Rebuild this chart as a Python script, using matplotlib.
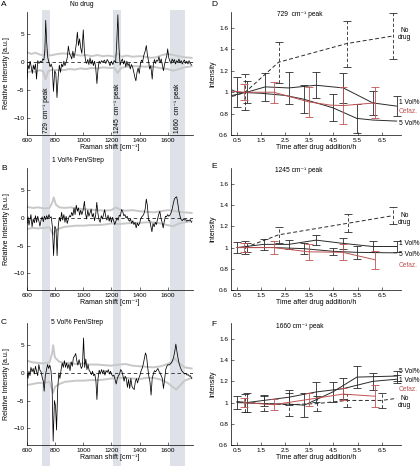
import numpy as np
import matplotlib
matplotlib.use("Agg")
import matplotlib.pyplot as plt
from matplotlib.patches import Rectangle
from matplotlib.transforms import blended_transform_factory

plt.rcParams['font.family'] = ['Liberation Sans', 'DejaVu Sans']
plt.rcParams['axes.linewidth'] = 0.5

# ---- spectra (wavenumber, relative intensity) ----
spec_a = [(600,-3),(607,-0.5),(615,-1.2),(622,0.2),(630,-0.8),(638,-2),(645,-0.5),(652,-1.3),(660,-0.3),(668,-3),
          (676,0.3),(685,-0.2),(695,0.2),(705,0),(712,0.6),(720,0.4),(727,2.2),(733,7.5),(740,3.5),(748,0.8),
          (756,0),(764,-0.8),(772,-0.3),(780,-1),(788,-5.2),(797,-1.5),(805,-2),(813,-6.3),(822,-2.5),(830,-0.5),
          (838,-1.8),(846,-0.3),(854,-0.8),(862,0.2),(870,-0.6),(878,0),(886,0.8),(894,2.9),(902,1.5),(910,1.2),
          (918,0.6),(926,2),(934,0.8),(942,1.8),(950,3.2),(958,5.4),(966,3),(974,4.2),(982,2.5),(990,1.6),
          (1000,5.8),(1008,2),(1016,0.3),(1024,-0.2),(1032,0.5),(1040,-0.4),(1048,0.8),(1056,-0.3),(1064,0.4),(1072,-0.6),
          (1080,0.2),(1088,-0.8),(1097,-3.8),(1105,-1.2),(1113,0.2),(1121,-0.2),(1130,0.3),(1140,0),(1150,0.4),(1160,-0.2),
          (1170,0.5),(1180,0.1),(1190,-0.6),(1200,0.2),(1210,-0.4),(1220,0.3),(1230,0),(1238,3.5),(1246,8.5),(1254,2.5),
          (1262,-0.5),(1270,0.2),(1278,0.6),(1286,-0.3),(1294,0.3),(1302,-0.8),(1310,0.2),(1318,-0.6),(1326,-0.2),(1334,-1.2),
          (1342,-0.4),(1350,-0.8),(1358,-1.6),(1366,-2.6),(1374,-3.3),(1382,-1.8),(1390,-1),(1398,-2),(1406,-0.3),(1414,0.4),
          (1422,0.1),(1430,1.2),(1440,2),(1448,3),(1456,1.3),(1464,0.2),(1472,-1.2),(1480,-0.6),(1490,-3),(1498,-0.4),
          (1506,0.5),(1514,-0.2),(1522,0.4),(1530,0.2),(1538,1),(1546,-0.1),(1554,0.6),(1562,-0.4),(1570,-1.5),(1578,-0.3),
          (1586,0.5),(1594,1.2),(1600,2.4),(1608,0.8),(1616,0.2),(1624,-0.2),(1632,0.6),(1640,0.1),(1648,0.5),(1656,-0.3),
          (1664,0.3),(1672,0),(1680,0.6),(1688,-0.1),(1696,0.3),(1704,-0.3),(1712,0.2),(1720,0.4),(1728,-0.2),(1736,0.2),
          (1744,-0.3),(1752,0.3),(1760,-0.2),(1770,-0.5)]

spec_b = [(600,-1),(607,0.2),(614,-1.3),(621,-0.3),(628,0.6),(636,-1.6),(644,-0.2),(652,-0.9),(660,0.4),(668,-0.8),
          (676,0.3),(684,-0.5),(692,-1.5),(700,-0.4),(708,0.2),(716,-0.7),(724,0.3),(732,-0.3),(740,0.4),(748,-0.2),
          (756,0.6),(764,0),(772,0.2),(780,-1.5),(789,-6.8),(798,-1.5),(806,-2),(814,-6.8),(822,-1.5),(830,0.1),
          (838,-0.6),(846,1),(854,-0.4),(862,0.6),(870,-0.8),(878,0.3),(886,-1),(894,-0.2),(902,0.4),(910,0.2),
          (918,1),(926,0.4),(934,1.8),(942,0.6),(950,2.3),(958,1.2),(966,1.8),(974,0.5),(982,1.4),(990,0.6),
          (1000,1.5),(1008,3),(1016,0.8),(1024,-0.2),(1032,1.4),(1040,0.3),(1048,0.9),(1056,1.6),(1064,0.2),(1072,0.8),
          (1080,-0.5),(1088,0.5),(1096,2.8),(1104,0.8),(1112,-0.3),(1120,-0.8),(1128,0.4),(1136,-0.2),(1144,0.6),(1152,1.5),
          (1160,0.2),(1168,-0.4),(1176,0.5),(1184,-0.6),(1192,0.2),(1200,-0.8),(1208,0.1),(1216,-0.5),(1224,-1.2),(1232,-0.6),
          (1240,0),(1248,-0.4),(1256,0.5),(1264,0.3),(1272,1.5),(1280,1.2),(1288,0.4),(1296,0.6),(1304,0),(1312,0.3),
          (1320,-0.3),(1328,-0.6),(1336,-0.2),(1344,-1),(1352,-0.5),(1360,-1.2),(1368,-0.8),(1376,-1.8),(1384,-0.9),(1392,-1.4),
          (1400,-1),(1408,-0.2),(1416,0.2),(1424,0.4),(1432,0.8),(1440,1.6),(1448,3.4),(1456,2.2),(1464,-0.5),(1472,-0.4),
          (1480,-1.4),(1488,-2.5),(1496,-1),(1504,-1.6),(1512,-0.8),(1520,-1.2),(1528,-0.2),(1536,0.6),(1544,1.2),(1552,0),
          (1560,-0.8),(1568,-1.8),(1576,-0.6),(1584,0.3),(1592,0.2),(1600,0.6),(1608,0.3),(1616,0.5),(1624,0.9),(1632,1.6),
          (1640,2.6),(1648,3.4),(1656,3.7),(1664,3.8),(1672,2.6),(1680,1.2),(1688,0.3),(1696,-0.3),(1704,-0.5),(1712,-0.2),
          (1720,-0.4),(1728,-0.3),(1736,-0.6),(1744,-0.4),(1752,-0.5),(1760,-0.3),(1770,-0.8)]

spec_c = [(600,0),(607,-1),(614,0.3),(621,-0.5),(628,1),(636,0.2),(644,0.8),(652,-0.2),(660,1.2),(668,0.3),
          (676,-0.5),(684,1.5),(692,0.5),(700,0.2),(708,-0.8),(716,-1.5),(722,-3.3),(730,-0.5),(738,0.5),(746,1.5),
          (754,0.8),(762,1.4),(770,0.5),(778,-2),(786,-12.3),(795,-5),(803,-6),(810,-10.3),(818,-3),(826,0),
          (834,-1),(842,0.5),(850,1.8),(858,1),(866,2.2),(874,1),(882,1.8),(890,0.8),(898,1.6),(906,0.4),
          (914,2),(922,1.2),(930,2.8),(938,3),(946,3.5),(954,2.2),(962,1.4),(970,2.4),(978,1.6),(986,0.8),
          (994,1.2),(1002,6.3),(1010,1),(1018,2.5),(1026,0.6),(1034,1.5),(1042,0.4),(1050,0.2),(1058,-0.3),(1066,0.3),
          (1074,-0.5),(1082,-0.2),(1090,-1.5),(1097,-4.8),(1105,-1),(1113,0.5),(1121,-0.2),(1130,0.6),(1138,-0.1),(1146,0.5),
          (1154,-0.4),(1162,0.4),(1170,0.1),(1178,0.6),(1186,-0.2),(1194,0.3),(1202,-0.3),(1210,-0.6),(1218,-0.4),(1226,-1.2),
          (1234,-2),(1242,-1),(1250,-0.5),(1258,-0.2),(1266,0.6),(1274,0.3),(1282,-0.5),(1290,-1.5),(1298,-0.6),(1306,-1),
          (1314,-2.6),(1322,-1.2),(1330,-2.8),(1338,-1),(1346,-2.4),(1354,-2.8),(1362,-3),(1370,-1.6),(1378,-1),(1386,-1.8),
          (1394,-1),(1402,-0.5),(1410,0.3),(1418,0.8),(1426,1.5),(1434,2.5),(1442,3.6),(1450,3),(1458,1),(1466,-0.6),
          (1474,-1.6),(1482,-4),(1490,-1),(1498,-0.2),(1506,0.4),(1514,0.2),(1522,0.5),(1530,0.8),(1538,0.3),(1546,0),
          (1554,-0.5),(1562,-1),(1570,-2.8),(1578,-1.2),(1586,0.6),(1594,1.2),(1602,1.5),(1610,1.4),(1618,1.6),(1626,1.8),
          (1634,2.2),(1642,2.8),(1650,3.8),(1658,5.2),(1666,3.8),(1674,2.6),(1682,1.6),(1690,1),(1698,0.5),(1706,0.2),
          (1714,0),(1722,-0.2),(1730,-0.1),(1738,-0.4),(1746,-0.3),(1754,-0.6),(1762,-0.5),(1770,-1)]

# noise envelopes (grey)
hi_a = [(600,1.8),(630,1.5),(660,1.7),(690,1.4),(720,1.2),(735,2.2),(750,1.2),(780,1.3),(820,1.5),(860,1.6),(900,1.5),
        (940,1.4),(980,1.2),(1020,1.3),(1060,1.1),(1100,1.3),(1140,1.1),(1180,1.2),(1220,1.0),(1245,1.6),(1270,1.0),
        (1310,1.2),(1350,1.0),(1400,1.1),(1440,1.0),(1480,0.8),(1520,0.9),(1560,1.3),(1600,1.5),(1640,1.3),(1680,1.1),
        (1720,0.9),(1770,0.8)]
lo_a = [(600,-1.8),(630,-1.6),(660,-1.7),(690,-1.4),(715,-1.6),(732,-3.0),(750,-1.6),(780,-1.3),(820,-1.4),(860,-1.4),
        (900,-1.2),(940,-1.3),(980,-1.1),(1020,-1.2),(1060,-1.0),(1100,-1.1),(1140,-0.9),(1180,-1.0),(1220,-1.0),(1245,-1.9),
        (1270,-1.0),(1310,-0.8),(1350,-0.7),(1400,-0.7),(1440,-0.8),(1480,-0.7),(1520,-0.9),(1560,-1.1),(1600,-1.2),
        (1640,-1.5),(1680,-1.2),(1720,-0.9),(1770,-0.7)]
hi_b = [(600,2.0),(640,1.8),(680,1.9),(720,1.7),(760,1.8),(780,2.8),(790,3.7),(805,2.4),(830,1.9),(870,1.8),(910,1.9),
        (950,1.7),(1000,1.6),(1050,1.5),(1100,1.4),(1150,1.3),(1200,1.4),(1230,1.9),(1260,1.5),(1300,1.3),(1350,1.4),
        (1400,1.2),(1450,1.1),(1500,1.0),(1550,1.2),(1600,1.4),(1640,1.3),(1680,1.1),(1720,1.0),(1770,0.9)]
lo_b = [(600,-2.0),(640,-1.8),(680,-1.9),(720,-1.8),(760,-1.7),(785,-3.0),(800,-2.4),(830,-1.9),(870,-1.6),(910,-1.5),
        (950,-1.4),(1000,-1.4),(1050,-1.3),(1100,-1.3),(1150,-1.2),(1200,-1.0),(1250,-1.1),(1300,-1.0),(1350,-0.9),
        (1400,-0.9),(1450,-0.8),(1500,-0.8),(1550,-1.0),(1600,-1.3),(1640,-1.5),(1680,-1.0),(1720,-0.8),(1770,-0.6)]
hi_c = [(600,2.2),(640,1.9),(680,1.8),(720,1.7),(760,1.9),(778,3.5),(786,5.0),(798,2.8),(830,2.0),(870,1.8),(910,1.8),
        (950,1.6),(1000,1.7),(1050,1.5),(1100,1.5),(1150,1.4),(1200,1.3),(1250,1.5),(1300,1.6),(1350,1.3),(1400,1.2),
        (1450,1.1),(1500,1.0),(1550,1.2),(1600,1.6),(1630,2.0),(1650,2.6),(1680,1.8),(1720,1.0),(1770,0.8)]
lo_c = [(600,-2.2),(640,-2.0),(680,-1.8),(720,-1.8),(760,-1.6),(785,-3.6),(800,-2.5),(830,-2.0),(870,-1.6),(910,-1.5),
        (950,-1.4),(1000,-1.4),(1050,-1.3),(1100,-1.3),(1150,-1.2),(1200,-1.0),(1250,-0.9),(1300,-0.9),(1350,-1.0),
        (1400,-1.1),(1450,-0.9),(1500,-0.9),(1550,-1.2),(1600,-1.8),(1630,-2.4),(1660,-3.0),(1690,-2.2),(1720,-1.4),
        (1770,-0.9)]

peak_bands = [(710, 762), (1214, 1270), (1620, 1720)]
peak_names = ['729', '1245', '1660']
spec_titles = ['No drug', '1 Vol% Pen/Strep', '5 Vol% Pen/Strep']

# ---- time courses: time (h), mean, error (0 = no bar) ----
d_nd_t = [0.3, 0.84, 2.22, 5.05, 6.95]; d_nd_m = [0.96, 1.0, 1.28, 1.455, 1.525]; d_nd_e = [0, 0.17, 0.19, 0.215, 0.215]
d_v1_t = [0.3, 0.91, 1.67, 2.64, 3.78, 4.91, 6.13, 7.12]; d_v1_m = [0.97, 1.0, 1.05, 1.04, 1.065, 1.04, 0.9, 0.87]
d_v1_e = [0, 0.105, 0.13, 0.15, 0.12, 0.14, 0.11, 0.095]
d_v5_t = [0.3, 0.5, 1.5, 2.5, 3.26, 4.47, 5.47, 6.13, 7.12]; d_v5_m = [1.02, 1.0, 0.99, 0.97, 0.935, 0.855, 0.755, 0.74, 0.73]
d_v5_e = [0, 0.14, 0, 0, 0.13, 0.125, 0.135, 0, 0]
d_cz_t = [0.3, 0.78, 2.02, 3.47, 4.35, 4.89, 6.22]; d_cz_m = [1.01, 1.0, 1.0, 0.91, 0.88, 0.875, 0.9]
d_cz_e = [0, 0.075, 0.1, 0.14, 0, 0.17, 0.145]

e_nd_t = [0.84, 2.22, 5.12, 6.95]; e_nd_m = [1.0, 1.12, 1.23, 1.3]; e_nd_e = [0.06, 0.075, 0.085, 0.08]
e_v1_t = [0.5, 1.6, 2.64, 3.78, 4.88, 6.13, 7.12]; e_v1_m = [1.0, 1.03, 1.03, 1.07, 1.04, 1.01, 1.01]
e_v1_e = [0.05, 0.05, 0.045, 0.045, 0.05, 0.05, 0.05]
e_v5_t = [0.5, 0.91, 2.0, 3.26, 4.47, 5.47, 7.12]; e_v5_m = [1.0, 1.0, 1.0, 0.99, 0.965, 0.955, 0.95]
e_v5_e = [0, 0.045, 0, 0.05, 0.035, 0.06, 0]
e_cz_t = [0.5, 0.78, 2.02, 3.47, 4.89, 6.22]; e_cz_m = [1.0, 1.0, 1.0, 0.96, 0.955, 0.885]
e_cz_e = [0, 0.04, 0.065, 0.075, 0.075, 0.085]

f_nd_t = [0.84, 1.6, 2.64, 3.8, 5.05, 6.5, 7.12]; f_nd_m = [1.0, 0.99, 0.98, 0.99, 1.02, 1.02, 1.04]
f_nd_e = [0.085, 0.07, 0.11, 0.07, 0.06, 0.07, 0]
f_v1_t = [0.5, 0.91, 1.6, 2.64, 3.78, 4.88, 6.13, 7.12]; f_v1_m = [1.01, 1.0, 1.02, 1.05, 1.1, 1.13, 1.2, 1.22]
f_v1_e = [0, 0.09, 0.055, 0.07, 0.095, 0.1, 0.08, 0.04]
f_v5_t = [0.5, 1.6, 2.68, 3.29, 4.47, 5.47, 7.12]; f_v5_m = [1.0, 0.99, 0.985, 0.975, 1.1, 1.24, 1.25]
f_v5_e = [0.06, 0, 0, 0.115, 0.09, 0.1, 0.045]
f_cz_t = [0.78, 2.02, 3.47, 4.89, 6.22]; f_cz_m = [1.0, 0.98, 1.03, 1.08, 1.06]; f_cz_e = [0.045, 0.05, 0.06, 0.06, 0.105]

RED = '#c05252'
DARK = '#2a2a2a'
GREY = '#c8c8c8'
BAND = '#dfe1e8'

W, H = 420, 466
def fx(px): return px / W
def fy(py): return 1 - py / H

fig = plt.figure(figsize=(4.2, 4.66), dpi=100)

rows = [(12, 135), (168, 290), (323, 445)]

def style(ax):
    for s in ['top', 'right']:
        ax.spines[s].set_visible(False)
    ax.tick_params(direction='in', length=2, width=0.4, labelsize=4.6, pad=2)
    ax.set_facecolor('none')

# ---- left: difference spectra ----
spec_axes = []
for i, (spec, hi, lo) in enumerate([(spec_a, hi_a, lo_a), (spec_b, hi_b, lo_b), (spec_c, hi_c, lo_c)]):
    top, bot = rows[i]
    ax = fig.add_axes([fx(27), fy(bot), fx(193) - fx(27), (bot - top) / H])
    style(ax)
    hi = np.array(hi); lo = np.array(lo); sp = np.array(spec)
    ax.plot(hi[:, 0], hi[:, 1], color=GREY, lw=1.4)
    ax.plot(lo[:, 0], lo[:, 1], color=GREY, lw=1.4)
    ax.axhline(0, color='k', lw=0.5, ls=(0, (5, 4)))
    ax.plot(sp[:, 0], sp[:, 1], color='k', lw=0.55)
    ax.set_xlim(600, 1780)
    ax.set_ylim(-13, 9)
    ax.set_xticks([600, 800, 1000, 1200, 1400, 1600])
    ax.set_yticks([-10, -5, 0, 5])
    ax.set_xlabel('Raman shift [cm⁻¹]', fontsize=5, labelpad=1)
    ax.set_ylabel('Relative Intensity [a.u.]', fontsize=5, labelpad=2)
    spec_axes.append(ax)

# grey bands spanning all three spectra
trans = blended_transform_factory(spec_axes[0].transData, fig.transFigure)
for x0, x1 in peak_bands:
    fig.add_artist(Rectangle((x0, 0.0), x1 - x0, fy(10), transform=trans,
                             facecolor=BAND, edgecolor='none', zorder=-1))

for (x0, x1), name in zip(peak_bands, peak_names):
    xc = (x0 + x1) / 2
    spec_axes[0].text(xc + 3, -12.6, name + '  cm⁻¹ peak', rotation=90, ha='center', va='bottom',
                      fontsize=4.8)

# ---- right: time courses ----
def series(ax, t, m, e, color, dashed=False):
    t = np.array(t); m = np.array(m); e = np.array(e)
    ax.plot(t, m, color=color, lw=0.7, ls=(0, (4, 2.5)) if dashed else '-')
    k = e > 0
    eb = ax.errorbar(t[k], m[k], yerr=e[k], fmt='none', ecolor=color, elinewidth=0.6,
                     capsize=3, capthick=0.6)
    if dashed:
        for lc in eb[2]:
            lc.set_linestyle((0, (4, 2.5)))

time_data = [
    [(d_nd_t, d_nd_m, d_nd_e, DARK, True), (d_v1_t, d_v1_m, d_v1_e, DARK, False),
     (d_v5_t, d_v5_m, d_v5_e, DARK, False), (d_cz_t, d_cz_m, d_cz_e, RED, False)],
    [(e_nd_t, e_nd_m, e_nd_e, DARK, True), (e_v1_t, e_v1_m, e_v1_e, DARK, False),
     (e_v5_t, e_v5_m, e_v5_e, DARK, False), (e_cz_t, e_cz_m, e_cz_e, RED, False)],
    [(f_nd_t, f_nd_m, f_nd_e, DARK, True), (f_v1_t, f_v1_m, f_v1_e, DARK, False),
     (f_v5_t, f_v5_m, f_v5_e, DARK, False), (f_cz_t, f_cz_m, f_cz_e, RED, False)],
]

# end labels: (text, y, colour)
end_labels = [
    [('No\ndrug', 1.54, 'k'), ('1 Vol%', 0.905, 'k'), ('Cefaz.', 0.82, RED), ('5 Vol%', 0.71, 'k')],
    [('No\ndrug', 1.265, 'k'), ('1 Vol%', 1.04, 'k'), ('5 Vol%', 0.93, 'k'), ('Cefaz.', 0.83, RED)],
    [('5 Vol%', 1.29, 'k'), ('1 Vol%', 1.21, 'k'), ('Cefaz.', 1.12, RED), ('No\ndrug', 1.005, 'k')],
]

for i in range(3):
    top, bot = rows[i]
    ax = fig.add_axes([fx(231), fy(bot), fx(401) - fx(231), (bot - top) / H])
    style(ax)
    for t, m, e, c, d in time_data[i]:
        series(ax, t, m, e, c, d)
    ax.set_xlim(0.25, 7.3)
    ax.set_ylim(0.6, 1.75)
    ax.set_xticks([0.5, 1.5, 2.5, 3.5, 4.5, 5.5, 6.5])
    ax.set_yticks([0.6, 0.8, 1.0, 1.2, 1.4, 1.6])
    ax.set_yticklabels(['0.6', '0.8', '1', '1.2', '1.4', '1.6'])
    ax.set_xlabel('Time after drug addition/h', fontsize=5, labelpad=1)
    ax.set_ylabel('Intensity', fontsize=5, labelpad=2)
    for txt, y, c in end_labels[i]:
        ax.text(7.2 if '\n' not in txt else 7.45, y, txt, color=c, fontsize=4.8,
                ha='left' if '\n' not in txt else 'center', va='center', clip_on=False,
                linespacing=1.0)

# ---- titles and panel letters ----
fig.text(fx(82), fy(5), spec_titles[0], ha='center', va='center', fontsize=4.8)
fig.text(fx(78), fy(160), spec_titles[1], ha='center', va='center', fontsize=4.8)
fig.text(fx(77), fy(323), spec_titles[2], ha='center', va='center', fontsize=4.8)
fig.text(fx(300), fy(14), '729  cm⁻¹ peak', ha='center', va='center', fontsize=4.8)
fig.text(fx(299), fy(171), '1245 cm⁻¹ peak', ha='center', va='center', fontsize=4.8)
fig.text(fx(300), fy(327), '1660 cm⁻¹ peak', ha='center', va='center', fontsize=4.8)

for letter, x, y in [('A', 4, 5), ('B', 4, 168), ('C', 4, 323), ('D', 214, 5), ('E', 214, 167), ('F', 214, 324)]:
    fig.text(fx(x), fy(y), letter, ha='center', va='center', fontsize=6)

fig.savefig('out.png', dpi=100)
